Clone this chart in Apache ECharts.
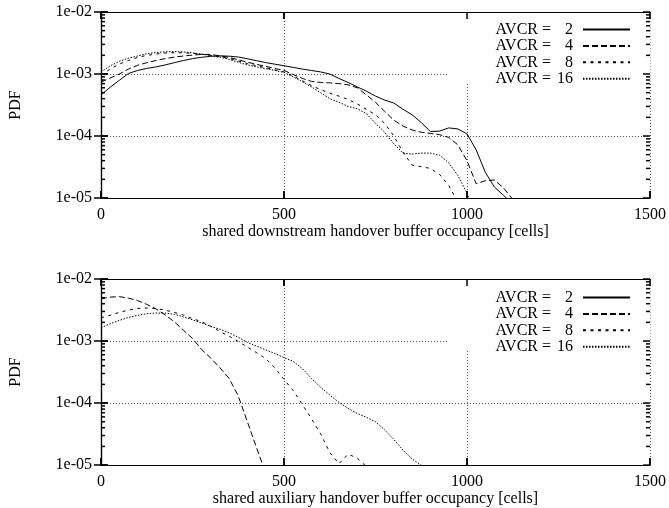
<!DOCTYPE html>
<html><head><meta charset="utf-8">
<script src="https://cdn.jsdelivr.net/npm/echarts@6/dist/echarts.min.js"></script>
<style>html,body{margin:0;padding:0;background:#fff}#c{width:669px;height:508px}</style>
</head><body><div id="c"></div>
<script>
// x positions (cells) shared by all curves
const xValues = [0,25,50,75,100,125,150,175,200,225,250,275,300,325,350,375,400,425,450,475,500,525,550,575,600,625,650,675,700,725,750,775,800,825,850,875,900,925,950,975,1000,1025,1050,1075,1100,1125];

// top panel: shared downstream handover buffer
const down2 = [4.6e-4,6.1e-4,7.9e-4,1.02e-3,1.14e-3,1.23e-3,1.3e-3,1.4e-3,1.52e-3,1.65e-3,1.77e-3,1.86e-3,1.93e-3,1.96e-3,1.94e-3,1.88e-3,1.76e-3,1.64e-3,1.53e-3,1.44e-3,1.36e-3,1.28e-3,1.2e-3,1.14e-3,1.08e-3,1.0e-3,8.5e-4,7.3e-4,6.2e-4,5.3e-4,4.4e-4,3.8e-4,3.4e-4,2.7e-4,2.2e-4,1.65e-4,1.18e-4,1.2e-4,1.35e-4,1.3e-4,1.08e-4,6e-5,2.6e-5,1.5e-5,1.1e-5,8e-6];
const down4 = [7.4e-4,8.6e-4,1.0e-3,1.2e-3,1.38e-3,1.52e-3,1.65e-3,1.77e-3,1.87e-3,1.95e-3,2.02e-3,2.07e-3,2.05e-3,1.97e-3,1.85e-3,1.7e-3,1.55e-3,1.43e-3,1.33e-3,1.23e-3,1.14e-3,9.8e-4,8.5e-4,7.6e-4,7.3e-4,7.2e-4,7.0e-4,6.7e-4,6.0e-4,4.6e-4,3.5e-4,2.5e-4,1.8e-4,1.45e-4,1.25e-4,1.15e-4,1.1e-4,1.05e-4,9.5e-5,7.2e-5,4.0e-5,1.7e-5,1.9e-5,1.95e-5,1.45e-5,9.5e-6];
const down8 = [9.6e-4,1.2e-3,1.45e-3,1.65e-3,1.85e-3,2.0e-3,2.1e-3,2.18e-3,2.2e-3,2.2e-3,2.15e-3,2.08e-3,2.0e-3,1.9e-3,1.78e-3,1.62e-3,1.47e-3,1.36e-3,1.26e-3,1.16e-3,1.08e-3,9.3e-4,7.8e-4,6.5e-4,5.6e-4,4.9e-4,4.4e-4,3.9e-4,3.3e-4,2.7e-4,2.2e-4,1.6e-4,1.0e-4,5.5e-5,3.4e-5,3.2e-5,3.0e-5,2.4e-5,1.6e-5,8.5e-6];
const down16 = [1.08e-3,1.35e-3,1.6e-3,1.8e-3,1.95e-3,2.13e-3,2.22e-3,2.28e-3,2.3e-3,2.27e-3,2.2e-3,2.1e-3,1.98e-3,1.87e-3,1.72e-3,1.55e-3,1.4e-3,1.3e-3,1.22e-3,1.14e-3,1.06e-3,9.0e-4,7.5e-4,6.2e-4,5.0e-4,4.0e-4,3.5e-4,3.0e-4,2.75e-4,2.3e-4,1.6e-4,1.15e-4,7.5e-5,5.3e-5,5.1e-5,5.3e-5,5.3e-5,4.9e-5,3.7e-5,2.3e-5,1.2e-5,5e-6];

// bottom panel: shared auxiliary handover buffer (AVCR = 2 never reaches the plotted range)
const aux2 = [];
const aux4 = [4.8e-3,5.1e-3,5.2e-3,4.9e-3,4.5e-3,3.9e-3,3.3e-3,2.65e-3,2.05e-3,1.5e-3,1.1e-3,7.3e-4,5.3e-4,3.7e-4,2.5e-4,1.3e-4,5e-5,1.9e-5,7.5e-6];
const aux8 = [2.37e-3,2.6e-3,2.9e-3,3.15e-3,3.35e-3,3.4e-3,3.35e-3,3.15e-3,2.9e-3,2.62e-3,2.3e-3,2.05e-3,1.73e-3,1.42e-3,1.2e-3,9.8e-4,8.0e-4,6.5e-4,5.2e-4,3.7e-4,2.4e-4,1.6e-4,9.5e-5,5.6e-5,3.2e-5,1.6e-5,1.05e-5,1.5e-5,1.3e-5,9.5e-6];
const aux16 = [1.64e-3,1.9e-3,2.15e-3,2.4e-3,2.6e-3,2.75e-3,2.83e-3,2.82e-3,2.7e-3,2.45e-3,2.2e-3,1.95e-3,1.72e-3,1.55e-3,1.36e-3,1.15e-3,9.5e-4,8.3e-4,7.2e-4,6.3e-4,5.4e-4,4.7e-4,3.6e-4,2.5e-4,1.8e-4,1.35e-4,1.03e-4,8.2e-5,6.8e-5,5.9e-5,5.0e-5,3.7e-5,2.6e-5,1.75e-5,1.25e-5,1.0e-5,7e-6];

const seriesNames = ['AVCR = 2','AVCR = 4','AVCR = 8','AVCR = 16'];
const xTickValues = [0,500,1000,1500];
const xTickLabels = ['0','500','1000','1500'];
const yTickValues = [1e-5,1e-4,1e-3,1e-2];
const yTickLabels = ['1e-05','1e-04','1e-03','1e-02'];
const xTitles = ['shared downstream handover buffer occupancy [cells]','shared auxiliary handover buffer occupancy [cells]'];

const FONT = 'Liberation Serif';
const dashes = ['solid',[6,3],[3,4.5],[1.5,1.5]];
// minor log tick positions k x 10^e
const minorTickValues = [];
for (let e = -5; e < -2; e++) for (let k = 2; k <= 9; k++) minorTickValues.push(+(k * Math.pow(10, e)).toPrecision(3));

const grids = [
  {left:100, top:12, width:552, height:186},
  {left:100, top:279, width:552, height:187}
];
const xAxes = [], yAxes = [], series = [];
const lineBlack = {show:true, lineStyle:{color:'#000', width:1.2}};
const gridLine = {show:true, lineStyle:{color:'#555', width:1, type:[1,2]}};
const tick = len => ({show:true, inside:true, length:len, lineStyle:{color:'#000', width:1.5}});
grids.forEach((g, gi) => {
  xAxes.push({
    gridIndex:gi, type:'value', min:0, max:1500, interval:500, position:'bottom',
    axisLine:lineBlack, axisTick:tick(7),
    axisLabel:{color:'#000', fontFamily:FONT, fontSize:16, margin:9,
      formatter:v => xTickLabels[xTickValues.indexOf(v)]},
    splitLine:gridLine,
    name:xTitles[gi], nameLocation:'middle', nameGap:24,
    nameTextStyle:{color:'#000', fontFamily:FONT, fontSize:16}
  });
  xAxes.push({
    gridIndex:gi, type:'value', min:0, max:1500, interval:500, position:'top',
    axisLine:lineBlack, axisTick:tick(7),
    axisLabel:{show:false}, splitLine:{show:false}
  });
  const base = {gridIndex:gi, type:'log', min:1e-5, max:1e-2, minorSplitLine:{show:false}};
  yAxes.push(Object.assign({}, base, {
    position:'left',
    axisLine:lineBlack, axisTick:tick(7),
    axisLabel:{color:'#000', fontFamily:FONT, fontSize:16, margin:9,
      formatter:v => yTickLabels[Math.round(Math.log10(v)) + 5]},
    splitLine:gridLine,
    name:'PDF', nameLocation:'middle', nameGap:77,
    nameTextStyle:{color:'#000', fontFamily:FONT, fontSize:16}
  }));
  yAxes.push(Object.assign({}, base, {
    position:'right',
    axisLine:lineBlack, axisTick:tick(7),
    axisLabel:{show:false}, splitLine:{show:false}
  }));
});

const panelData = [[down2, down4, down8, down16], [aux2, aux4, aux8, aux16]];
panelData.forEach((arrs, gi) => {
  arrs.forEach((arr, si) => {
    series.push({
      type:'line', name:seriesNames[si], xAxisIndex:gi*2, yAxisIndex:gi*2,
      data:arr.map((v, i) => [xValues[i], v]),
      symbol:'none', showSymbol:false, z:3, clip:true,
      lineStyle:{color:'#000', width:1, type:dashes[si]},
      itemStyle:{color:'#000'}
    });
  });
});

const legendBase = {
  orient:'vertical', right:38, itemWidth:47, itemHeight:14, itemGap:0.4, align:'right',
  padding:0, selectedMode:false, data:seriesNames,
  itemStyle:{opacity:0},
  formatter:name => { const p = name.split('='); return '{a|' + p[0] + '=}{n|' + p[1].trim() + '}'; },
  textStyle:{color:'#000', fontFamily:FONT, fontSize:16, lineHeight:15,
    rich:{
      a:{color:'#000', fontFamily:FONT, fontSize:16, lineHeight:15},
      n:{color:'#000', fontFamily:FONT, fontSize:16, lineHeight:15, width:22, align:'right', padding:[0,5,0,0]}
    }}
};

// white key boxes: gnuplot does not draw the grid behind the key
const keyBoxes = [
  {type:'rect', z:1, silent:true, shape:{x:447, y:13, width:203.5, height:70}, style:{fill:'#fff'}},
  {type:'rect', z:1, silent:true, shape:{x:447, y:280, width:203.5, height:70}, style:{fill:'#fff'}}
];

const chart = echarts.init(document.getElementById('c'), null, {renderer:'canvas'});
chart.setOption({
  animation:false,
  backgroundColor:'#fff',
  grid:grids,
  xAxis:xAxes,
  yAxis:yAxes,
  legend:[Object.assign({}, legendBase, {top:21.5}), Object.assign({}, legendBase, {top:289.5})],
  graphic:keyBoxes,
  series:series
});

// mirrored gnuplot-style tick marks, positioned through each panel's own axis scales
const tickEls = [];
const TW = 1.5;
const hLine = (x1, x2, y) => ({type:'line', z:20, silent:true,
  shape:{x1:x1, y1:y, x2:x2, y2:y}, style:{stroke:'#000', lineWidth:TW}});
const vLine = (x, y1, y2) => ({type:'line', z:20, silent:true,
  shape:{x1:x, y1:y1, x2:x, y2:y2}, style:{stroke:'#000', lineWidth:TW}});
[0, 1].forEach(gi => {
  const finder = {xAxisIndex:gi*2, yAxisIndex:gi*2};
  const px = (x, y) => chart.convertToPixel(finder, [x, y]);
  const xl = px(0, 1e-3)[0], xr = px(1500, 1e-3)[0];
  const yb = px(0, 1e-5)[1], yt = px(0, 1e-2)[1];
  yTickValues.forEach(v => { const y = px(0, v)[1]; tickEls.push(hLine(xl, xl + 7, y), hLine(xr - 7, xr, y)); });
  minorTickValues.forEach(v => { const y = px(0, v)[1]; tickEls.push(hLine(xl, xl + 4, y), hLine(xr - 4, xr, y)); });
  xTickValues.forEach(v => { const x = px(v, 1e-3)[0]; tickEls.push(vLine(x, yb - 7, yb), vLine(x, yt, yt + 7)); });
});
chart.setOption({graphic:keyBoxes.concat(tickEls)});
</script>
</body></html>
